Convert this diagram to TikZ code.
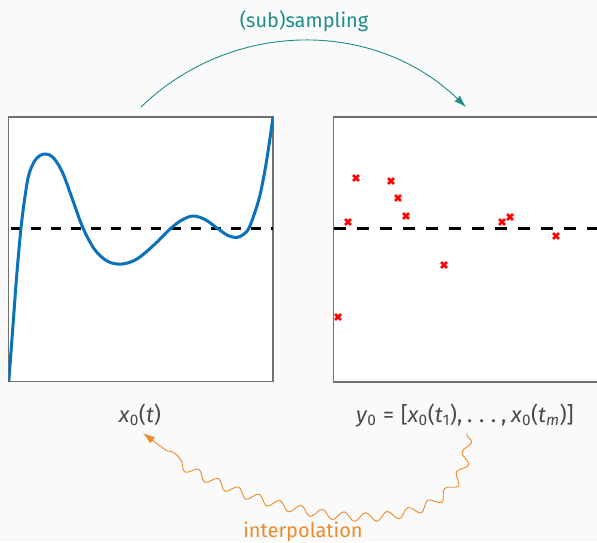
\documentclass[tikz,border=0pt]{standalone}
\usepackage{fontspec}
\setmainfont{Fira Sans}
\usetikzlibrary{arrows.meta,decorations.pathmorphing}
\definecolor{bgc}{HTML}{FAFAFA}
\definecolor{tealc}{HTML}{1E8C8C}
\definecolor{orangec}{HTML}{EE8A2A}
\definecolor{curveblue}{HTML}{0A72BD}
\definecolor{txtc}{HTML}{4A4A4A}
\definecolor{boxc}{HTML}{707070}
\newcommand{\vsub}[1]{\textsubscript{#1}}
\newcommand{\msp}{\hspace{0.3em}}
\begin{document}
\begin{tikzpicture}[x=1pt,y=1pt,
  plotbox/.style={draw=boxc,line width=1.2pt,fill=white},
  zeroline/.style={black,line width=3pt},
  lbl/.style={font=\fontsize{20}{24}\selectfont,anchor=base,inner sep=0pt},
  mathlbl/.style={lbl,font=\fontsize{22}{26}\selectfont,text=txtc},
  sampmark/.style={red,line width=2.8pt,mark=x,mark size=4.1pt}]
\fill[bgc] (0,0) rectangle (597,-542);
\useasboundingbox (0,0) rectangle (597,-542);
% boxes
\path[plotbox] (8.5,-117) rectangle (273,-381.5);
\path[plotbox] (333.5,-117) rectangle (610,-382);
\coordinate (lbox) at (140.7,-249);
\coordinate (rbox) at (465,-249);
% dashed zero lines
\draw[zeroline,dash pattern=on 10pt off 10pt,dash phase=-2pt] (8.5,-228) -- (273,-228);
\draw[zeroline,dash pattern=on 12pt off 11pt] (333.5,-228) -- (597,-228);
% curve
\begin{scope}
\clip (8.5,-117) rectangle (273,-381.5);
\draw[curveblue,line width=3pt,line join=round] plot[smooth,tension=0.55] coordinates {
(8.8,-381.5) (13,-325) (17,-272) (21,-228) (24.5,-200) (28.5,-176) (34,-162)
(40,-155.5) (46,-154) (52,-156.5) (58,-164) (64,-176) (72,-198) (83,-228)
(95,-250) (108,-261.5) (122,-264) (137,-259) (155,-244) (170,-229)
(182,-220) (193,-216) (205,-219.5) (217,-228) (228,-235.5) (237,-237.5)
(244,-234) (249,-228) (255,-212) (260,-195) (265,-170) (269,-145) (273,-117)};
\end{scope}
% samples
\draw[sampmark] plot[only marks] coordinates {
(338,-317) (348,-222) (356,-178) (391,-181) (398,-198) (406,-216)
(444,-265) (502,-222) (510,-217) (556,-236)};
% labels
\node[lbl,text=tealc] (sub) at (304,-27) {(sub)sampling};
\node[mathlbl] (x0) at (140,-422) {\textit{x}\vsub{0}(\textit{t})};
\node[mathlbl] (y0) at (465,-422) {\textit{y}\vsub{0}\msp=\msp[\textit{x}\vsub{0}(\textit{t}\vsub{1}),\hspace{0.22em}.\hspace{0.3em}.\hspace{0.3em}.\hspace{0.22em},\hspace{0.22em}\textit{x}\vsub{0}(\textit{t}\vsub{\textit{m}})]};
\node[lbl,text=orangec] (interp) at (303,-537) {interpolation};
% arrows
\coordinate (a1) at (141,-107);
\coordinate (a2) at (466,-107);
\draw[tealc,line width=0.9pt,-{Latex[length=12pt,width=8pt]}] (a1) to[bend left=44] (a2);
\coordinate (b1) at (467,-433);
\coordinate (b2) at (143,-433);
\draw[orangec,line width=0.9pt,-{Latex[length=12pt,width=8pt]},
  decorate,decoration={snake,amplitude=4.5pt,segment length=22pt,post length=22pt,pre length=2pt}]
  (b1) to[out=-88,in=-40] (b2);
\end{tikzpicture}
\end{document}
